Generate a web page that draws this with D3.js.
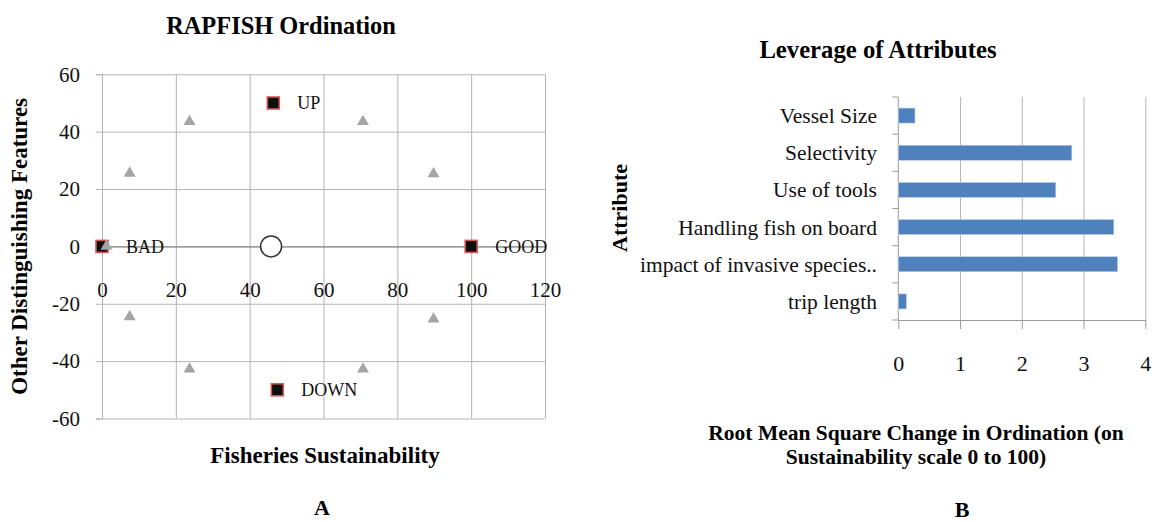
<!DOCTYPE html>
<html>
<head>
<meta charset="utf-8">
<script src="https://cdn.jsdelivr.net/npm/d3@7"></script>
<style>
  body { margin: 0; background: #fff; }
  svg { display: block; font-family: "Liberation Serif", "Times New Roman", serif; }
</style>
</head>
<body>
<svg id="fig" width="1156" height="522"></svg>
<script>
// ---- RAPFISH ordination: anchors, reference points, fishery score ----
const anchorNames = ["BAD", "GOOD", "UP", "DOWN"];
const anchorX = [0, 100, 46.4, 47.5];
const anchorY = [0, 0, 50, -50];
const refX = [1.2, 7.5, 23.7, 70.7, 89.8, 7.5, 23.7, 70.7, 89.8];
const refY = [0, 25.5, 43.5, 43.5, 25.3, -24.5, -42.8, -42.8, -25.3];
const scoreX = [45.8];
const scoreY = [0];
const ordXTicks = [0, 20, 40, 60, 80, 100, 120];
const ordYTicks = [-60, -40, -20, 0, 20, 40, 60];

// ---- Leverage of attributes (RMS change, scale 0-100) ----
const attributes = ["Vessel Size", "Selectivity", "Use of tools",
  "Handling fish on board", "impact of invasive species..", "trip length"];
const leverage = [0.27, 2.81, 2.55, 3.49, 3.55, 0.13];
const levTicks = [0, 1, 2, 3, 4];

const svg = d3.select("#fig");
const gridColor = "#b4b4b4";
const axisColor = "#9a9a9a";
const num = d => String(d);   // plain hyphen for negatives

// ================= Panel A =================
{
  const x = d3.scaleLinear().domain([0, 120]).range([102, 545]);
  const y = d3.scaleLinear().domain([-60, 60]).range([418.5, 74.3]);
  const g = svg.append("g");

  // vertical gridlines
  g.append("g")
    .attr("transform", `translate(0,${y(-60)})`)
    .call(d3.axisBottom(x).tickValues(ordXTicks).tickSize(-(y(-60) - y(60))).tickFormat(""))
    .call(s => s.select(".domain").remove())
    .call(s => s.selectAll("line").attr("stroke", gridColor));

  // horizontal gridlines with outer ticks and labels
  g.append("g")
    .attr("transform", `translate(${x(0)},0)`)
    .call(d3.axisLeft(y).tickValues(ordYTicks).tickSize(6).tickPadding(16).tickFormat(num))
    .call(s => s.select(".domain").attr("stroke", gridColor))
    .call(s => s.selectAll(".tick line").clone()
      .attr("x2", x(120) - x(0)))
    .call(s => s.selectAll("line").attr("stroke", gridColor))
    .call(s => s.selectAll("text").attr("font-size", 21).attr("fill", "#111")
      .attr("font-family", "Liberation Serif"));

  // horizontal axis through zero
  g.append("g")
    .attr("transform", `translate(0,${y(0)})`)
    .call(d3.axisBottom(x).tickValues(ordXTicks).tickSize(0).tickPadding(36).tickFormat(num))
    .call(s => s.select(".domain").attr("stroke", "#8c8c8c").attr("stroke-width", 1.3))
    .call(s => s.selectAll("text").attr("font-size", 21).attr("fill", "#111")
      .attr("font-family", "Liberation Serif"));

  // anchor squares
  const sq = 12;
  g.selectAll("rect.anchor")
    .data(anchorNames)
    .join("rect")
    .attr("class", "anchor")
    .attr("x", (d, i) => x(anchorX[i]) - sq / 2)
    .attr("y", (d, i) => y(anchorY[i]) - sq / 2)
    .attr("width", sq).attr("height", sq)
    .attr("fill", "#0e0e0e")
    .attr("stroke", "#cf5b58")
    .attr("stroke-width", 1.6);

  g.selectAll("text.anchorLabel")
    .data(anchorNames)
    .join("text")
    .attr("class", "anchorLabel")
    .attr("x", (d, i) => x(anchorX[i]) + 24)
    .attr("y", (d, i) => y(anchorY[i]))
    .attr("dy", "0.35em")
    .attr("font-size", 18)
    .attr("fill", "#111")
    .text(d => d);

  // reference points
  const tri = d3.symbol().type(d3.symbolTriangle).size(62);
  g.selectAll("path.ref")
    .data(refX)
    .join("path")
    .attr("class", "ref")
    .attr("d", tri)
    .attr("transform", (d, i) => `translate(${x(d)},${y(refY[i])})`)
    .attr("fill", "#a5a5a5");

  // fishery score
  g.selectAll("circle.score")
    .data(scoreX)
    .join("circle")
    .attr("class", "score")
    .attr("cx", d => x(d))
    .attr("cy", (d, i) => y(scoreY[i]))
    .attr("r", 10.5)
    .attr("fill", "#fff")
    .attr("stroke", "#333")
    .attr("stroke-width", 1.5);

  // titles
  g.append("text").attr("x", 281).attr("y", 25).attr("dy", "0.35em")
    .attr("text-anchor", "middle").attr("font-weight", "bold").attr("font-size", 24.4)
    .text("RAPFISH Ordination");
  g.append("text").attr("x", 325).attr("y", 455).attr("dy", "0.35em")
    .attr("text-anchor", "middle").attr("font-weight", "bold").attr("font-size", 23)
    .text("Fisheries Sustainability");
  g.append("text")
    .attr("transform", `translate(19,${(y(60) + y(-60)) / 2}) rotate(-90)`)
    .attr("dy", "0.35em")
    .attr("text-anchor", "middle").attr("font-weight", "bold").attr("font-size", 23)
    .text("Other Distinguishing Features");
  g.append("text").attr("x", 322).attr("y", 507).attr("dy", "0.35em")
    .attr("text-anchor", "middle").attr("font-weight", "bold").attr("font-size", 22)
    .text("A");
}

// ================= Panel B =================
{
  const x = d3.scaleLinear().domain([0, 4]).range([898.3, 1145.3]);
  const y = d3.scaleBand().domain(attributes).range([97, 320]);
  const g = svg.append("g");

  // vertical gridlines
  g.append("g")
    .attr("transform", `translate(0,${y.range()[1]})`)
    .call(d3.axisBottom(x).tickValues(levTicks.slice(1)).tickSize(-(320 - 97)).tickFormat(""))
    .call(s => s.select(".domain").remove())
    .call(s => s.selectAll("line").attr("stroke", gridColor));

  // bottom axis with outward ticks
  g.append("g")
    .attr("transform", `translate(0,320)`)
    .call(d3.axisBottom(x).tickValues(levTicks).tickSize(9).tickSizeOuter(0).tickPadding(26).tickFormat(num))
    .call(s => s.select(".domain").attr("stroke", axisColor))
    .call(s => s.selectAll("line").attr("stroke", axisColor))
    .call(s => s.selectAll("text").attr("font-size", 22).attr("fill", "#111")
      .attr("font-family", "Liberation Serif"));

  // left axis: ticks on category boundaries
  const bounds = attributes.map(a => y(a)).concat([y.range()[1]]);
  const leftAxis = g.append("g");
  leftAxis.append("line")
    .attr("x1", x(0)).attr("x2", x(0)).attr("y1", 97).attr("y2", 320)
    .attr("stroke", axisColor);
  leftAxis.selectAll("line.tick")
    .data(bounds)
    .join("line")
    .attr("class", "tick")
    .attr("x1", x(0) - 6).attr("x2", x(0))
    .attr("y1", d => d).attr("y2", d => d)
    .attr("stroke", axisColor);

  // bars
  const barH = 15;
  g.selectAll("rect.bar")
    .data(attributes)
    .join("rect")
    .attr("class", "bar")
    .attr("x", x(0))
    .attr("y", d => y(d) + y.bandwidth() / 2 - barH / 2)
    .attr("width", (d, i) => x(leverage[i]) - x(0))
    .attr("height", barH)
    .attr("fill", "#4f81bd")
    .attr("stroke", "#b9cde6")
    .attr("stroke-width", 0.6);

  // category labels
  g.selectAll("text.cat")
    .data(attributes)
    .join("text")
    .attr("class", "cat")
    .attr("x", 877)
    .attr("y", d => y(d) + y.bandwidth() / 2)
    .attr("dy", "0.35em")
    .attr("text-anchor", "end")
    .attr("font-size", 21.5)
    .attr("fill", "#111")
    .text(d => d);

  // titles
  g.append("text").attr("x", 878).attr("y", 49).attr("dy", "0.35em")
    .attr("text-anchor", "middle").attr("font-weight", "bold").attr("font-size", 24.7)
    .text("Leverage of Attributes");
  g.append("text")
    .attr("transform", `translate(619,208) rotate(-90)`)
    .attr("dy", "0.35em")
    .attr("text-anchor", "middle").attr("font-weight", "bold").attr("font-size", 22)
    .text("Attribute");
  const xt = g.append("text").attr("text-anchor", "middle")
    .attr("font-weight", "bold").attr("font-size", 21.5);
  xt.append("tspan").attr("x", 916).attr("y", 432).attr("dy", "0.35em")
    .text("Root Mean Square Change in Ordination (on");
  xt.append("tspan").attr("x", 916).attr("y", 456).attr("dy", "0.35em")
    .text("Sustainability scale 0 to 100)");
  g.append("text").attr("x", 962).attr("y", 509).attr("dy", "0.35em")
    .attr("text-anchor", "middle").attr("font-weight", "bold").attr("font-size", 22)
    .text("B");
}
</script>
</body>
</html>
